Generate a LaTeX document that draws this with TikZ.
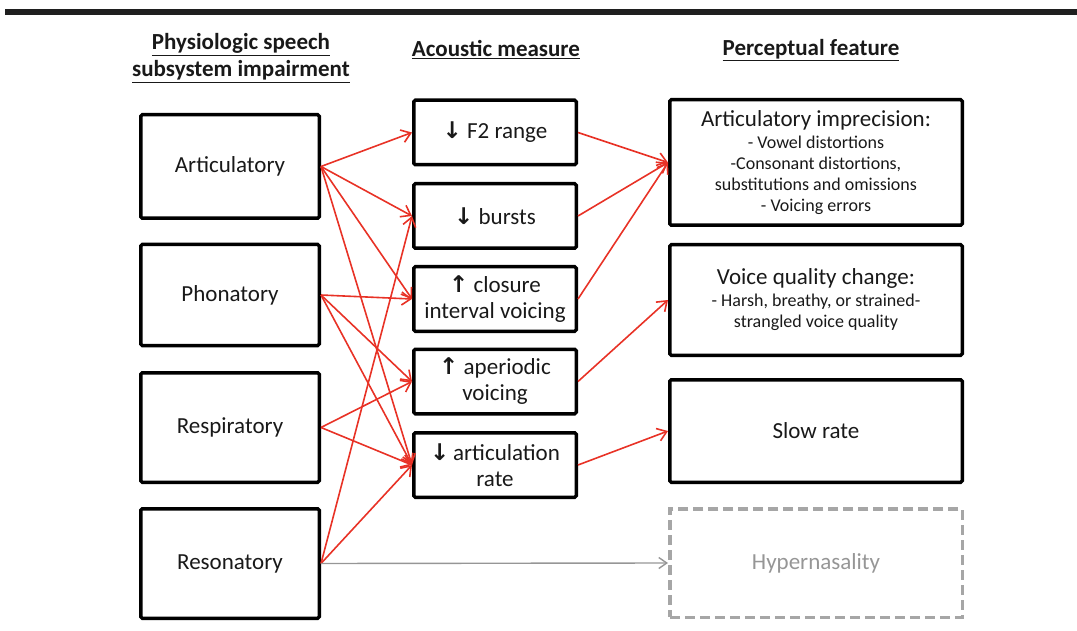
\documentclass[tikz,border=0pt]{standalone}
\usepackage{fontspec}
\setmainfont{Carlito}
\newfontfamily\arrowfont{DejaVu Sans}
\usetikzlibrary{arrows.meta}
\definecolor{linkred}{RGB}{232,50,38}
\definecolor{fadegray}{RGB}{150,150,150}
\newcommand{\uparr}{{\arrowfont\bfseries ↑}}
\newcommand{\downarr}{{\arrowfont\bfseries ↓}}
\newcommand{\subline}[1]{{\fontsize{18}{21}\selectfont #1}}
\begin{document}
\begin{tikzpicture}[x=1pt,y=-1pt,
    box/.style={draw=black, line width=3.5pt, rounded corners=1.5pt, inner sep=0pt,
        align=center, text=black!90, font=\fontsize{23}{26}\selectfont},
    subsys/.style={box, minimum width=178.5pt},
    measure/.style={box, minimum width=162.5pt, minimum height=64.5pt},
    feature/.style={box, minimum width=292.5pt},
    head/.style={align=center, text=black!90, font=\bfseries\fontsize{23}{27}\selectfont},
    link/.style={draw=linkred, line width=1.6pt, -{Straight Barb[length=9pt,width=13pt]}},
    fadelink/.style={draw=fadegray, line width=1.4pt, -{Straight Barb[length=8pt,width=11pt]}}]
\useasboundingbox (0,0) rectangle (1077,631);
\fill[black!88] (5,9) rectangle (1077,15);

% column headings
\node[head] (hsub) at (241,58) {\underline{Physiologic speech}\\\underline{subsystem impairment}};
\node[head] (hmeas) at (496,50) {\underline{Acoustic measure}};
\node[head] (hfeat) at (811,50) {\underline{Perceptual feature}};

% subsystems
\node[subsys, minimum height=103.5pt] (art) at (230,166.5) {Articulatory};
\node[subsys, minimum height=101pt] (phon) at (230,295) {Phonatory};
\node[subsys, minimum height=109.5pt] (resp) at (230,427.5) {Respiratory};
\node[subsys, minimum height=109.5pt] (reso) at (230,563.5) {Resonatory};

% acoustic measures
\node[measure] (f2) at (495,132.5) {\downarr\ F2 range};
\node[measure] (bursts) at (495,216) {\downarr\ bursts};
\node[measure] (closure) at (495,299) {\uparr\ closure\\interval voicing};
\node[measure] (aper) at (495,381.5) {\uparr\ aperiodic\\voicing};
\node[measure] (artrate) at (495,465) {\downarr\,articulation\\rate};

% perceptual features
\node[feature, minimum height=125.5pt] (imprec) at (816,162.5)
    {Articulatory imprecision:\\[-4pt]
    \subline{- Vowel distortions}\\[-5pt]
    \subline{-Consonant distortions,}\\[-5pt]
    \subline{substitutions and omissions}\\[-5pt]
    \subline{- Voicing errors}};
\node[feature, minimum height=110.5pt] (voice) at (816,300)
    {Voice quality change:\\[-4pt]
    \subline{- Harsh, breathy, or strained-}\\[-5pt]
    \subline{strangled voice quality}};
\node[feature, minimum height=102.5pt] (slow) at (816,431) {Slow rate};
\node[feature, minimum height=108.5pt, draw=fadegray!85, dash pattern=on 10pt off 5pt,
    rounded corners=0pt, text=fadegray] (hyper) at (816,563) {Hypernasality};

% subsystem -> measure
\draw[link] (art.east) -- (f2.west);
\draw[link] (art.east) -- (bursts.west);
\draw[link] (art.east) -- (closure.west);
\draw[link] (art.east) -- (artrate.west);
\draw[link] (phon.east) -- (closure.west);
\draw[link] (phon.east) -- (aper.west);
\draw[link] (phon.east) -- (artrate.west);
\draw[link] (resp.east) -- (aper.west);
\draw[link] (resp.east) -- (artrate.west);
\draw[link] (reso.east) -- (bursts.west);
\draw[link] (reso.east) -- (artrate.west);
\draw[fadelink] (reso.east) -- (hyper.west);

% measure -> feature
\draw[link] (f2.east) -- (imprec.west);
\draw[link] (bursts.east) -- (imprec.west);
\draw[link] (closure.east) -- (imprec.west);
\draw[link] (aper.east) -- (voice.west);
\draw[link] (artrate.east) -- (slow.west);
\end{tikzpicture}
\end{document}
